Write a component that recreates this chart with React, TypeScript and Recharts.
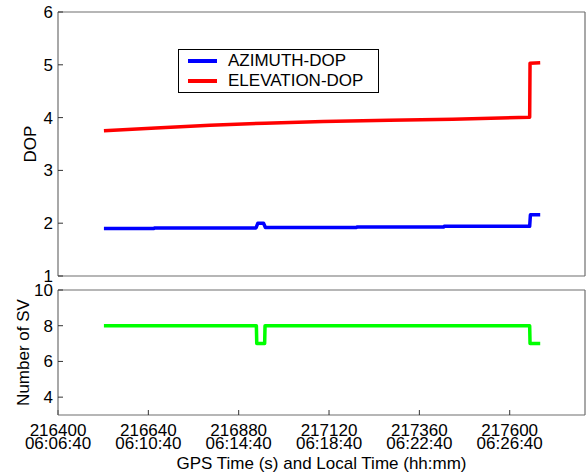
import React from 'react';
import { LineChart, Line, XAxis, YAxis, Legend } from 'recharts';

// ---------- data ----------
const xTicks = [216400, 216640, 216880, 217120, 217360, 217600];
const localTimeLabels = ['06:06:40', '06:10:40', '06:14:40', '06:18:40', '06:22:40', '06:26:40'];
const xDomain = [216400, 217800];

const dopTicks = [1, 2, 3, 4, 5, 6];
const dopDomain = [1, 6];
const svTicks = [4, 6, 8, 10];
const svDomain = [3, 10];

const elevationTime = [216522, 216660, 216804, 216950, 217104, 217280, 217449, 217653, 217654, 217681];
const elevationDop = [3.75, 3.805, 3.855, 3.895, 3.925, 3.95, 3.97, 4.005, 5.03, 5.04];

const azimuthTime = [216522, 216655, 216656, 216926, 216931, 216946, 216951, 217193, 217194, 217425, 217426, 217653, 217655, 217681];
const azimuthDop = [1.9, 1.9, 1.91, 1.91, 2.0, 2.0, 1.92, 1.92, 1.93, 1.93, 1.94, 1.94, 2.16, 2.16];

const svTime = [216522, 216927, 216928, 216949, 216950, 217653, 217654, 217681];
const svCount = [8, 8, 7, 7, 8, 8, 7, 7];

const elevationData = elevationTime.map((t, i) => ({ t, v: elevationDop[i] }));
const azimuthData = azimuthTime.map((t, i) => ({ t, v: azimuthDop[i] }));
const svData = svTime.map((t, i) => ({ t, v: svCount[i] }));

// ---------- styles ----------
const FONT = '"Liberation Sans", Arial, Helvetica, sans-serif';
const FS = 17;
const frame = '#6e6e6e';
const tickCol = '#333333';

function TwoLineTick(props: any) {
  const { x, y, payload } = props;
  const idx = xTicks.indexOf(payload.value);
  return (
    <text x={x} y={y} textAnchor="middle" fontSize={FS} fontFamily={FONT} fill="#000">
      <tspan x={x} dy={15.5}>{payload.value}</tspan>
      <tspan x={x} dy={13}>{localTimeLabels[idx]}</tspan>
    </text>
  );
}

function yTitle(text: string, cxOffset: number) {
  return (props: any) => {
    const vb = props.viewBox || { x: 0, y: 0, width: 0, height: 0 };
    const cx = vb.x + cxOffset;
    const cy = vb.y + vb.height / 2;
    return (
      <text
        x={cx}
        y={cy}
        transform={`rotate(-90, ${cx}, ${cy})`}
        textAnchor="middle"
        dominantBaseline="central"
        fontSize={FS}
        fontFamily={FONT}
        fill="#000"
      >
        {text}
      </text>
    );
  };
}

function xTitle(props: any) {
  const vb = props.viewBox || { x: 0, y: 0, width: 0, height: 0 };
  return (
    <text
      x={vb.x + vb.width / 2}
      y={vb.y + 54}
      textAnchor="middle"
      fontSize={FS}
      fontFamily={FONT}
      fill="#000"
    >
      GPS Time (s) and Local Time (hh:mm)
    </text>
  );
}

function LegendBox(props: any) {
  const payload = props.payload || [];
  return (
    <div
      style={{
        boxSizing: 'border-box',
        width: 201,
        height: 44,
        border: '1px solid #000',
        background: '#fff',
        paddingTop: 1,
        fontFamily: FONT,
        fontSize: FS,
      }}
    >
      {payload.map((p: any) => (
        <div key={p.value} style={{ display: 'flex', alignItems: 'center', height: 20, lineHeight: '20px' }}>
          <div style={{ width: 29, height: 3.5, background: p.color, marginLeft: 9, marginRight: 11 }} />
          <span style={{ color: '#000', whiteSpace: 'nowrap' }}>{p.value}</span>
        </div>
      ))}
    </div>
  );
}

const axisLine = { stroke: frame, strokeWidth: 1.2 };
const tickLine = { stroke: tickCol, strokeWidth: 1 };
const tickFont = { fontSize: FS, fontFamily: FONT, fill: '#000' };

export default function App() {
  return (
    <div style={{ position: 'absolute', left: 0, top: 0, width: 587, height: 475, background: '#fff', fontFamily: FONT }}>
      <div style={{ position: 'absolute', left: 0, top: 0 }}>
        <LineChart width={587} height={290} margin={{ top: 11, right: 1, bottom: 13, left: 0 }}>
          <XAxis
            xAxisId="b"
            dataKey="t"
            type="number"
            orientation="bottom"
            domain={xDomain}
            ticks={xTicks}
            height={1}
            tick={false}
            tickSize={-5}
            axisLine={axisLine}
            tickLine={tickLine}
          />
          <XAxis
            xAxisId="t"
            type="number"
            orientation="top"
            domain={xDomain}
            ticks={xTicks}
            height={1}
            tick={false}
            tickSize={-5}
            axisLine={axisLine}
            tickLine={tickLine}
          />
          <YAxis
            yAxisId="l"
            type="number"
            domain={dopDomain}
            ticks={dopTicks}
            width={58}
            tickSize={-5}
            tickMargin={10}
            tick={tickFont}
            axisLine={axisLine}
            tickLine={tickLine}
            label={yTitle('DOP', 30)}
          />
          <YAxis
            yAxisId="r"
            type="number"
            orientation="right"
            domain={dopDomain}
            ticks={dopTicks}
            width={1}
            tick={false}
            tickSize={-5}
            axisLine={axisLine}
            tickLine={tickLine}
          />
          <Legend
            layout="vertical"
            align="center"
            verticalAlign="middle"
            content={LegendBox}
            wrapperStyle={{ left: 178, top: 49, width: 201, height: 44 }}
          />
          <Line
            xAxisId="b"
            yAxisId="l"
            data={azimuthData}
            dataKey="v"
            name="AZIMUTH-DOP"
            stroke="#0000ff"
            strokeWidth={3.5}
            dot={false}
            activeDot={false}
            isAnimationActive={false}
            strokeLinejoin="round"
          />
          <Line
            xAxisId="b"
            yAxisId="l"
            data={elevationData}
            dataKey="v"
            name="ELEVATION-DOP"
            stroke="#ff0000"
            strokeWidth={3.5}
            dot={false}
            activeDot={false}
            isAnimationActive={false}
            strokeLinejoin="round"
          />
        </LineChart>
      </div>
      <div style={{ position: 'absolute', left: 0, top: 280 }}>
        <LineChart width={587} height={195} margin={{ top: 9, right: 1, bottom: 0, left: 0 }}>
          <XAxis
            xAxisId="b"
            dataKey="t"
            type="number"
            orientation="bottom"
            domain={xDomain}
            ticks={xTicks}
            height={60}
            tick={<TwoLineTick />}
            tickSize={-5}
            tickMargin={10}
            axisLine={axisLine}
            tickLine={tickLine}
            label={xTitle}
          />
          <XAxis
            xAxisId="t"
            type="number"
            orientation="top"
            domain={xDomain}
            ticks={xTicks}
            height={1}
            tick={false}
            tickSize={-5}
            axisLine={axisLine}
            tickLine={tickLine}
          />
          <YAxis
            yAxisId="l"
            type="number"
            domain={svDomain}
            ticks={svTicks}
            width={58}
            tickSize={-5}
            tickMargin={10}
            tick={tickFont}
            axisLine={axisLine}
            tickLine={tickLine}
            label={yTitle('Number of SV', 23)}
          />
          <YAxis
            yAxisId="r"
            type="number"
            orientation="right"
            domain={svDomain}
            ticks={svTicks}
            width={1}
            tick={false}
            tickSize={-5}
            axisLine={axisLine}
            tickLine={tickLine}
          />
          <Line
            xAxisId="b"
            yAxisId="l"
            data={svData}
            dataKey="v"
            name="Number of SV"
            stroke="#00ff00"
            strokeWidth={3.5}
            dot={false}
            activeDot={false}
            isAnimationActive={false}
            strokeLinejoin="round"
          />
        </LineChart>
      </div>
    </div>
  );
}
